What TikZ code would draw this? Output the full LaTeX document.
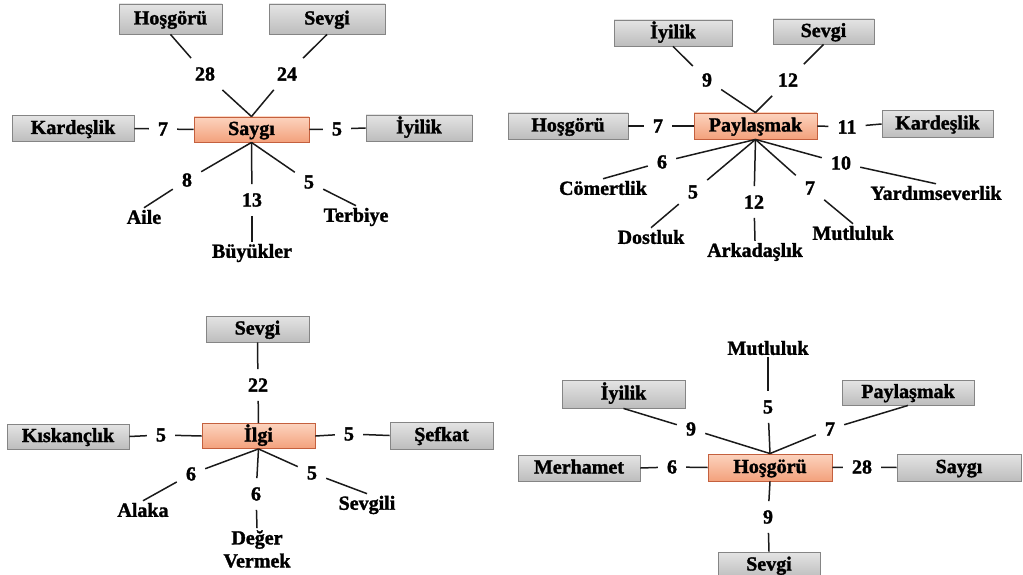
\documentclass[tikz,border=0pt]{standalone}
\usepackage{fontspec}
\setmainfont{Liberation Serif}[BoldFeatures={FakeBold=1.5}]
\definecolor{gtop}{HTML}{E4E4E4}
\definecolor{gbot}{HTML}{BDBDBD}
\definecolor{gborder}{HTML}{858585}
\definecolor{otop}{HTML}{FCD3BE}
\definecolor{obot}{HTML}{F3A17C}
\definecolor{oborder}{HTML}{C4603E}
\definecolor{linecol}{HTML}{1A1A1A}
\begin{document}
\begin{tikzpicture}[x=1pt,y=-1pt,
  font=\fontsize{20}{23}\selectfont\bfseries,
  box/.style={draw, line width=0.9pt, minimum height=26pt, text height=13pt, text depth=2pt, inner sep=0pt},
  gbox/.style={box, draw=gborder, top color=gtop, bottom color=gbot},
  obox/.style={box, draw=oborder, top color=otop, bottom color=obot},
  num/.style={inner sep=9pt},
  lbl/.style={inner sep=2pt},
  conn/.style={line width=1.5pt, draw=linecol}]
\useasboundingbox (0,0) rectangle (1023,575);

% ---------------- Quadrant 1: Saygi
\node[obox, minimum width=115pt, minimum height=25pt] (sC) at (251.5,129.5) {Saygı};
\node[gbox, minimum width=103pt, minimum height=30pt] (sHo) at (170.5,19) {Hoşgörü};
\node[gbox, minimum width=116pt, minimum height=30pt] (sSe) at (327,19) {Sevgi};
\node[gbox, minimum width=122pt, minimum height=26pt] (sKa) at (73,128.5) {Kardeşlik};
\node[gbox, minimum width=106pt, minimum height=26pt] (sIy) at (419,128) {İyilik};
\node[num] (sn1) at (205,74) {28};
\node[num] (sn2) at (287,74) {24};
\node[num] (sn3) at (163,129) {7};
\node[num] (sn4) at (337,129) {5};
\node[num] (sn5) at (187,180) {8};
\node[num] (sn6) at (252,200) {13};
\node[num] (sn7) at (309,182) {5};
\node[lbl] (sAi) at (144,217) {Aile};
\node[lbl] (sBu) at (252,253) {Büyükler};
\node[lbl] (sTe) at (356,217) {Terbiye};
\draw[conn] (sHo.south) -- (sn1); \draw[conn] (sn1) -- (sC.north);
\draw[conn] (sSe.south) -- (sn2); \draw[conn] (sn2) -- (sC.north);
\draw[conn] (sKa.east) -- (sn3); \draw[conn] (sn3) -- (sC.west);
\draw[conn] (sC.east) -- (sn4); \draw[conn] (sn4) -- (sIy.west);
\draw[conn] (sC.south) -- (sn5); \draw[conn] (sn5) -- (sAi.north);
\draw[conn] (sC.south) -- (sn6); \draw[conn] (sn6) -- (sBu.north);
\draw[conn] (sC.south) -- (sn7); \draw[conn] (sn7) -- (sTe.north);

% ---------------- Quadrant 2: Paylasmak
\node[obox, minimum width=123pt, minimum height=26pt] (pC) at (755.5,126) {Paylaşmak};
\node[gbox, minimum width=118pt, minimum height=26pt] (pIy) at (673,33) {İyilik};
\node[gbox, minimum width=101pt, minimum height=25pt] (pSe) at (823.5,31.5) {Sevgi};
\node[gbox, minimum width=120pt, minimum height=26pt] (pHo) at (568,126) {Hoşgörü};
\node[gbox, minimum width=111pt, minimum height=27pt] (pKa) at (937.5,124) {Kardeşlik};
\node[num] (pn1) at (707,80) {9};
\node[num] (pn2) at (788,80) {12};
\node[num] (pn3) at (658,126) {7};
\node[num] (pn4) at (847,127) {11};
\node[num] (pn5) at (662,162) {6};
\node[num] (pn6) at (841,163) {10};
\node[num] (pn7) at (693,192) {5};
\node[num] (pn8) at (754,202) {12};
\node[num] (pn9) at (810,188) {7};
\node[lbl] (pCo) at (603,188) {Cömertlik};
\node[lbl] (pYa) at (936,193) {Yardımseverlik};
\node[lbl] (pDo) at (651,237) {Dostluk};
\node[lbl] (pAr) at (755,252) {Arkadaşlık};
\node[lbl] (pMu) at (853,233) {Mutluluk};
\draw[conn] (pIy.south) -- (pn1); \draw[conn] (pn1) -- (pC.north);
\draw[conn] (pSe.south) -- (pn2); \draw[conn] (pn2) -- (pC.north);
\draw[conn] (pHo.east) -- (pn3); \draw[conn] (pn3) -- (pC.west);
\draw[conn] (pC.east) -- (pn4); \draw[conn] (pn4) -- (pKa.west);
\draw[conn] (pC.south) -- (pn5); \draw[conn] (pn5) -- (pCo.north);
\draw[conn] (pC.south) -- (pn6); \draw[conn] (pn6) -- (pYa.north);
\draw[conn] (pC.south) -- (pn7); \draw[conn] (pn7) -- (pDo.north);
\draw[conn] (pC.south) -- (pn8); \draw[conn] (pn8) -- (pAr.north);
\draw[conn] (pC.south) -- (pn9); \draw[conn] (pn9) -- (pMu.north);

% ---------------- Quadrant 3: Ilgi
\node[obox, minimum width=113pt, minimum height=25pt] (iC) at (258.5,436) {İlgi};
\node[gbox, minimum width=103pt, minimum height=26pt] (iSe) at (257.5,329) {Sevgi};
\node[gbox, minimum width=122pt, minimum height=25pt] (iKi) at (68,436.5) {Kıskançlık};
\node[gbox, minimum width=103pt, minimum height=27pt] (iSf) at (441.5,435.5) {Şefkat};
\node[num] (in1) at (258,385) {22};
\node[num] (in2) at (161,435) {5};
\node[num] (in3) at (349,434) {5};
\node[num] (in4) at (191,474) {6};
\node[num] (in5) at (256,494) {6};
\node[num] (in6) at (312,473) {5};
\node[lbl] (iAl) at (143,510) {Alaka};
\node[lbl, align=center] (iDe) at (257,549) {Değer\\Vermek};
\node[lbl] (iSv) at (367,505) {Sevgili};
\draw[conn] (iSe.south) -- (in1); \draw[conn] (in1) -- (iC.north);
\draw[conn] (iKi.east) -- (in2); \draw[conn] (in2) -- (iC.west);
\draw[conn] (iC.east) -- (in3); \draw[conn] (in3) -- (iSf.west);
\draw[conn] (iC.south) -- (in4); \draw[conn] (in4) -- (iAl.north);
\draw[conn] (iC.south) -- (in5); \draw[conn] (in5) -- (iDe.north);
\draw[conn] (iC.south) -- (in6); \draw[conn] (in6) -- (iSv.north);

% ---------------- Quadrant 4: Hosgoru
\node[obox, minimum width=124pt, minimum height=27pt] (hC) at (770,467.5) {Hoşgörü};
\node[gbox, minimum width=123pt, minimum height=28pt] (hIy) at (623.5,394) {İyilik};
\node[gbox, minimum width=132pt, minimum height=25pt] (hPa) at (908,392.5) {Paylaşmak};
\node[gbox, minimum width=122pt, minimum height=26pt] (hMe) at (579,468) {Merhamet};
\node[gbox, minimum width=124pt, minimum height=27pt] (hSa) at (959,467.5) {Saygı};
\node[gbox, minimum width=102pt, minimum height=26pt] (hSe) at (769,565) {Sevgi};
\node[lbl] (hMu) at (768,348) {Mutluluk};
\node[num] (hn1) at (768,407) {5};
\node[num] (hn2) at (691,429) {9};
\node[num] (hn3) at (830,429) {7};
\node[num] (hn4) at (672,467) {6};
\node[num] (hn5) at (862,467) {28};
\node[num] (hn6) at (768,517) {9};
\draw[conn] (hMu.south) -- (hn1); \draw[conn] (hn1) -- (hC.north);
\draw[conn] (hIy.south) -- (hn2); \draw[conn] (hn2) -- (hC.north);
\draw[conn] (hPa.south) -- (hn3); \draw[conn] (hn3) -- (hC.north);
\draw[conn] (hMe.east) -- (hn4); \draw[conn] (hn4) -- (hC.west);
\draw[conn] (hC.east) -- (hn5); \draw[conn] (hn5) -- (hSa.west);
\draw[conn] (hC.south) -- (hn6); \draw[conn] (hn6) -- (hSe.north);
\end{tikzpicture}
\end{document}
